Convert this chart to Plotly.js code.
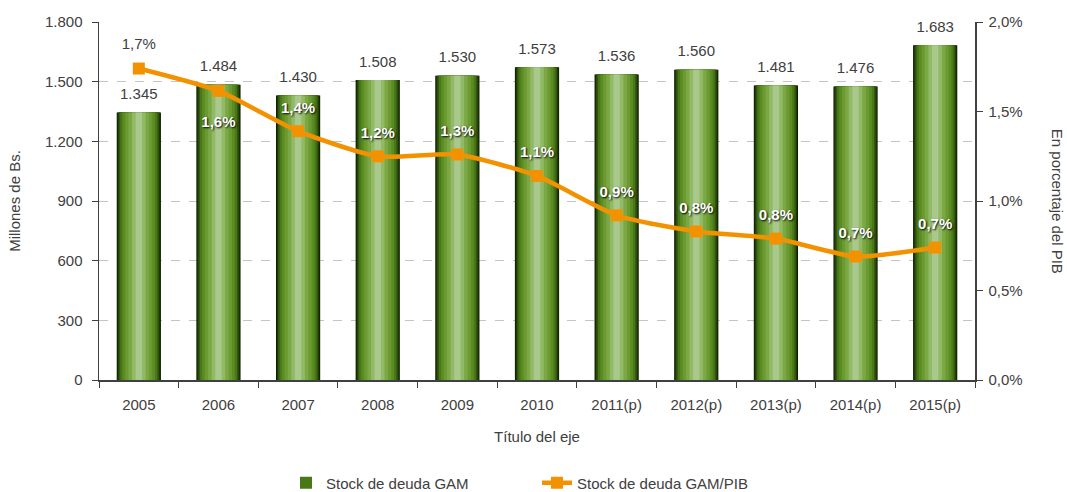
<!DOCTYPE html>
<html>
<head>
<meta charset="utf-8">
<script src="https://cdn.plot.ly/plotly-3.0.1.min.js"></script>
<style>html,body{margin:0;padding:0;background:#fff;}#chart{width:1067px;height:492px;}</style>
</head>
<body>
<div id="chart"></div>
<script>
const years = ["2005","2006","2007","2008","2009","2010","2011(p)","2012(p)","2013(p)","2014(p)","2015(p)"];
const stockGAM = [1345,1484,1430,1508,1530,1573,1536,1560,1481,1476,1683];
const stockPct = [1.74,1.615,1.39,1.25,1.26,1.14,0.92,0.83,0.79,0.69,0.74];
const pctLabels = ["1,7%","1,6%","1,4%","1,2%","1,3%","1,1%","0,9%","0,8%","0,8%","0,7%","0,7%"];
const leftTicks = [0,300,600,900,1200,1500,1800];
const rightTicks = [0,0.5,1.0,1.5,2.0];
const rightTickText = ["0,0%","0,5%","1,0%","1,5%","2,0%"];

const FONT = '"Liberation Sans", Arial, sans-serif';
const TXT = '#404040';
const FS = 15;

const layerWidths = [0.555,0.535,0.505,0.465,0.41,0.34,0.26,0.17,0.08];
const layerColors = ["#0a1d00","#1d3805","#33570e","#497818","#5b8c24","#6a9a30","#7ba845","#92ba66","#a9c98c"];

const traces = [];
layerWidths.forEach((w,i)=>{
  traces.push({
    type:'bar', x:years, y:stockGAM, width:w,
    marker:{color:layerColors[i], line:{width:0}},
    name:'Stock de deuda GAM',
    showlegend:(i===3), hoverinfo:'skip'
  });
});

// bar value labels
traces.push({
  type:'scatter', mode:'markers+text', x:years, y:stockGAM,
  text:stockGAM.map(v=>v.toLocaleString('de-DE')),
  textposition:'top center',
  marker:{size:14, opacity:0},
  textfont:{family:FONT, size:FS, color:TXT},
  showlegend:false, hoverinfo:'skip', cliponaxis:false
});

// line
traces.push({
  type:'scatter', mode:'lines+markers', x:years, y:stockPct, yaxis:'y2',
  name:'Stock de deuda GAM/PIB',
  line:{color:'#f39200', width:4.5, shape:'spline', smoothing:0.6},
  marker:{symbol:'square', size:12, color:'#f39200'},
  hoverinfo:'skip', cliponaxis:false
});

// first percent label (outside bar, plain dark)
traces.push({
  type:'scatter', mode:'markers+text', x:years.slice(0,1), y:stockPct.slice(0,1), yaxis:'y2',
  text:pctLabels.slice(0,1), textposition:'top center',
  marker:{size:24, opacity:0},
  textfont:{family:FONT, size:FS, color:TXT},
  showlegend:false, hoverinfo:'skip', cliponaxis:false
});

// remaining percent labels (white bold with shadow)
const restPos = years.slice(1).map((_,i)=> i===0 ? 'bottom center' : 'top center');
const restSize = years.slice(1).map((_,i)=> i===0 ? 38 : 22);
traces.push({
  type:'scatter', mode:'markers+text', x:years.slice(1), y:stockPct.slice(1), yaxis:'y2',
  text:pctLabels.slice(1), textposition:restPos,
  marker:{size:restSize, opacity:0},
  textfont:{family:FONT, size:FS, color:'#ffffff', weight:'bold', shadow:'1px 1px 2px #000000'},
  showlegend:false, hoverinfo:'skip', cliponaxis:false
});

const layout = {
  width:1067, height:492,
  margin:{l:99, r:92, t:22, b:112, autoexpand:false},
  paper_bgcolor:'#ffffff', plot_bgcolor:'#ffffff',
  separators:',.',
  barmode:'overlay',
  font:{family:FONT, size:FS, color:TXT},
  xaxis:{
    type:'category', range:[-0.5, years.length-0.5], autorange:false,
    showline:true, linecolor:'#404040', linewidth:1.5,
    ticks:'outside', tickson:'boundaries', ticklen:6, tickcolor:'#404040',
    ticklabelstandoff:10,
    showgrid:false, zeroline:false, automargin:false,
    tickfont:{family:FONT, size:FS, color:TXT},
    title:{text:'Título del eje', font:{family:FONT, size:FS, color:TXT}, standoff:20}
  },
  yaxis:{
    range:[0,1800], tickmode:'array', tickvals:leftTicks, tickformat:',d',
    showline:true, linecolor:'#404040', linewidth:1.5,
    ticks:'outside', ticklen:6, tickcolor:'#404040', ticklabelstandoff:6,
    showgrid:true, gridcolor:'#c4c4c4', griddash:'dash', gridwidth:1,
    zeroline:false, automargin:false,
    tickfont:{family:FONT, size:FS, color:TXT},
    title:{text:'Millones de Bs.', font:{family:FONT, size:FS, color:TXT}, standoff:20}
  },
  yaxis2:{
    overlaying:'y', side:'right', range:[0,2.0], tickmode:'array',
    tickvals:rightTicks, ticktext:rightTickText,
    showline:true, linecolor:'#404040', linewidth:1.5,
    ticks:'outside', ticklen:6, tickcolor:'#404040', ticklabelstandoff:3,
    showgrid:false, zeroline:false, automargin:false,
    tickfont:{family:FONT, size:FS, color:TXT}
  },
  legend:{orientation:'h', x:0.5, xanchor:'center', y:-0.288, yanchor:'middle',
          font:{family:FONT, size:FS, color:TXT}, traceorder:'normal',
          entrywidth:206, entrywidthmode:'pixels'},
  annotations:[{
    xref:'paper', yref:'paper', x:1.095, y:0.5, xanchor:'center', yanchor:'middle',
    text:'En porcentaje del PIB', textangle:90, showarrow:false,
    font:{family:FONT, size:FS, color:TXT}
  }]
};

Plotly.newPlot('chart', traces, layout, {displayModeBar:false, staticPlot:true});
</script>
</body>
</html>
